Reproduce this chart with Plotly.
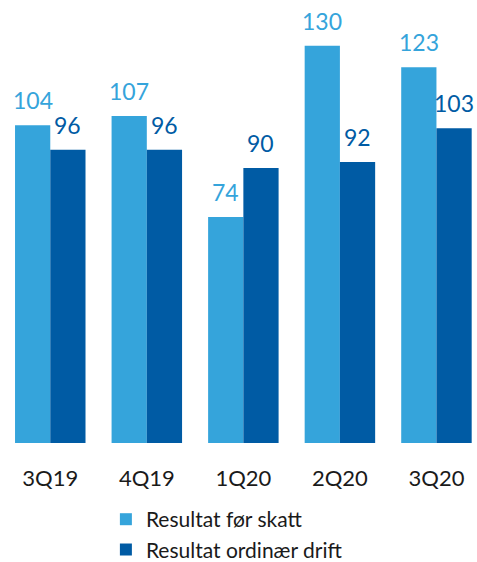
import plotly.graph_objects as go

categories = ["3Q19", "4Q19", "1Q20", "2Q20", "3Q20"]
resultat_for_skatt = [104, 107, 74, 130, 123]
resultat_ordinaer = [96, 96, 90, 92, 103]

LIGHT = "#35A4DB"
DARK = "#005BA4"
FONT = "Lato, Carlito, Calibri, sans-serif"
BARGAP = 0.27

idx = list(range(len(categories)))

fig = go.Figure()
fig.add_trace(go.Bar(x=idx, y=resultat_for_skatt, name="Resultat før skatt",
                     marker=dict(color=LIGHT, line=dict(width=0))))
fig.add_trace(go.Bar(x=idx, y=resultat_ordinaer, name="Resultat ordinær drift",
                     marker=dict(color=DARK, line=dict(width=0))))

half = (1 - BARGAP) / 4
anns = []
for i, a, b in zip(idx, resultat_for_skatt, resultat_ordinaer):
    anns.append(dict(x=i - half, y=a, text=str(a), showarrow=False, yanchor="bottom",
                     yshift=9, font=dict(family=FONT, size=23, color=LIGHT)))
    anns.append(dict(x=i + half, y=b, text=str(b), showarrow=False, yanchor="bottom",
                     yshift=9, font=dict(family=FONT, size=23, color=DARK)))

fig.update_layout(
    width=477, height=562,
    margin=dict(l=2, r=0, t=0, b=119, autoexpand=False),
    paper_bgcolor="white", plot_bgcolor="white",
    barmode="group", bargap=BARGAP, bargroupgap=0,
    font=dict(family=FONT, color="#1a1a1a"),
    annotations=anns,
    xaxis=dict(range=[-0.5, 4.42], showgrid=False, showline=False,
               tickvals=idx, ticktext=categories, tickangle=0,
               zeroline=False, ticks="", tickfont=dict(size=22, color="#1a1a1a"),
               ticklabelstandoff=20),
    yaxis=dict(range=[0, 145], visible=False),
    legend=dict(orientation="v", xref="container", yref="container",
                x=0.222, y=0.112, xanchor="left", yanchor="top",
                font=dict(size=21, color="#1a1a1a"), bgcolor="rgba(0,0,0,0)",
                itemclick=False),
    showlegend=True,
)

fig.write_html("out.html")
